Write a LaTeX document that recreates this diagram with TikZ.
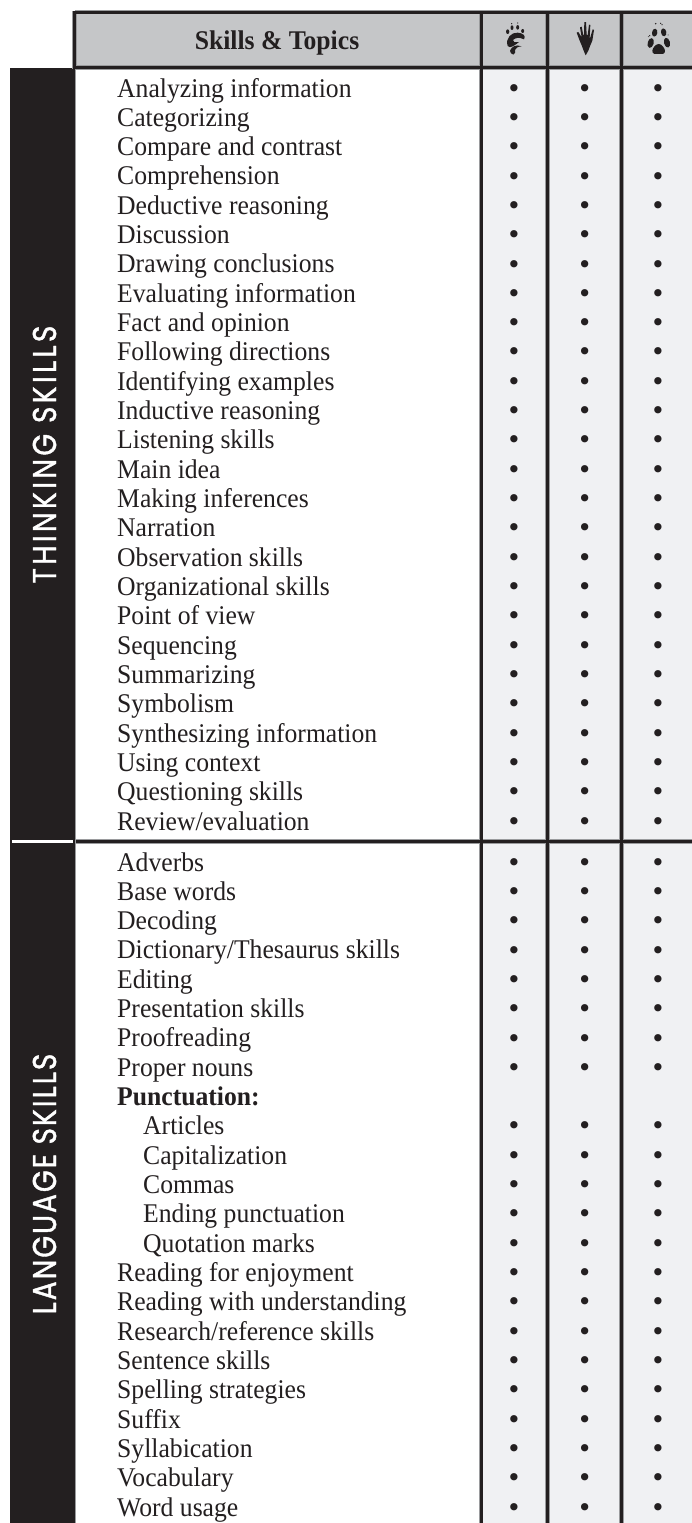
\documentclass[tikz,border=0pt]{standalone}
\usepackage{fontspec}
\setmainfont{Liberation Serif}[FakeStretch=0.95]
\newfontfamily\sidefontA{Poppins}[LetterSpace=10,FakeStretch=0.85,FakeBold=1.2]
\newfontfamily\sidefontB{Poppins}[LetterSpace=6,FakeStretch=0.85,FakeBold=1.2]
\newfontfamily\dotfont{DejaVu Sans}
\definecolor{ink}{HTML}{231F20}
\definecolor{headgray}{HTML}{C5C6C8}
\definecolor{cellgray}{HTML}{F0F1F3}
\definecolor{halo}{HTML}{9A9B9D}
\tikzset{
  x=1pt,y=-1pt,
  rowtext/.style={anchor=base west,inner sep=0pt,font=\fontsize{27}{29}\selectfont,text=ink},
  dotmark/.style={anchor=base,inner sep=0pt,font=\dotfont\fontsize{25}{25}\selectfont,text=ink},
  sidelabel/.style={rotate=90,anchor=center,inner sep=0pt,text=white},
  rulehalo/.style={draw=halo,line width=4.6pt},
  ruleink/.style={draw=ink,line width=3pt},
  iconink/.style={fill=ink,draw=none}
}
\newcommand{\gridpaths}[1]{%
  \draw[#1] (481,12) -- (481,1523);
  \draw[#1] (547.6,12) -- (547.6,1523);
  \draw[#1] (621.6,12) -- (621.6,1523);
  \draw[#1] (74.5,12) -- (692,12);
  \draw[#1] (74.5,67.5) -- (692,67.5);
  \draw[#1] (74.5,10.5) -- (74.5,69);
  \draw[#1] (76,841.5) -- (692,841.5);
}
\begin{document}
\begin{tikzpicture}
\useasboundingbox (0,0) rectangle (692,1523);
\fill[white] (0,0) rectangle (692,1523);
% sidebar
\fill[ink] (10,68) rectangle (75,1523);
\fill[halo] (75,68) rectangle (76,1523);
% fills
\fill[headgray] (74,12) rectangle (692,67);
\fill[cellgray] (481,68) rectangle (692,1523);
% rules
\gridpaths{rulehalo}
\gridpaths{ruleink}
\draw[draw=halo,line width=3.6pt] (12,841.5) -- (73,841.5);
\draw[draw=white,line width=2.4pt] (12,841.5) -- (73,841.5);
% header
\node[rowtext,font=\fontsize{27}{29}\selectfont\bfseries,anchor=base] (head) at (277,49) {Skills \& Topics};
% bear
\begin{scope}[shift={(495,20)},scale=0.3333]
\fill[iconink] (38,35) ellipse (5 and 7);
\fill[iconink] (51,23) ellipse (4.5 and 7);
\fill[iconink] (68,22) ellipse (4.5 and 7);
\fill[iconink] (83,33) ellipse (4.5 and 6);
\fill[iconink] (50,11) circle (2) (68,9) circle (2);
\fill[iconink] (38,78) .. controls (30,55) and (50,36) .. (68,38)
  .. controls (84,39) and (94,48) .. (87,58)
  .. controls (72,50) and (60,54) .. (54,60)
  .. controls (52,66) and (60,68) .. (72,66)
  .. controls (62,74) and (45,88) .. (38,78) -- cycle;
\fill[iconink] (45,92) .. controls (50,80) and (62,72) .. (80,79)
  .. controls (68,80) and (62,84) .. (60,90)
  .. controls (62,95) and (60,102) .. (55,104)
  .. controls (50,102) and (44,98) .. (45,92) -- cycle;
\end{scope}
% hand
\begin{scope}[shift={(565,20)},scale=0.3333]
\fill[iconink] (62,106) -- (56,92) -- (50,76) -- (44,62) -- (35,38) -- (40,36) -- (50,52)
 -- (45,22) -- (50,20) -- (55,46) -- (57,44) -- (58,6) -- (63,6) -- (65,44) -- (68,46) -- (72,14) -- (76,15) -- (74,54)
 -- (76,52) -- (83,28) -- (87,30) -- (82,62) -- (76,76) -- (70,92) -- cycle;
\end{scope}
% wolf
\begin{scope}[shift={(638,20)},scale=0.3333]
\fill[iconink] (62,72) .. controls (72,72) and (80,85) .. (81,92)
  .. controls (82,103) and (70,104) .. (62,102)
  .. controls (54,104) and (42,103) .. (43,92)
  .. controls (44,85) and (52,72) .. (62,72) -- cycle;
\fill[iconink,rotate around={-15:(38,69)}] (38,69) ellipse (9 and 15);
\fill[iconink,rotate around={15:(87,68)}] (87,68) ellipse (9 and 15);
\fill[iconink,rotate around={-10:(50,38)}] (50,38) ellipse (8 and 12);
\fill[iconink,rotate around={10:(77,37)}] (77,37) ellipse (8 and 12);
\fill[iconink] (53,11) circle (2.5) (68,10) circle (2) (72,14) circle (2) (35,47) circle (2) (31,50) circle (1.5) (90,45) circle (1.5);
\end{scope}
% sidebar labels
\node[sidelabel,font=\sidefontA\fontsize{33}{33}\selectfont] (thinking) at (44.5,454.5) {THINKING SKILLS};
\node[sidelabel,font=\sidefontB\fontsize{33}{33}\selectfont] (language) at (44.5,1184) {LANGUAGE SKILLS};
% rows
\foreach \txt [count=\i from 0] in {Analyzing information,Categorizing,Compare and contrast,Comprehension,Deductive reasoning,Discussion,Drawing conclusions,Evaluating information,Fact and opinion,Following directions,Identifying examples,Inductive reasoning,Listening skills,Main idea,Making inferences,Narration,Observation skills,Organizational skills,Point of view,Sequencing,Summarizing,Symbolism,Synthesizing information,Using context,Questioning skills,Review/evaluation}{
  \pgfmathsetmacro{\yy}{87.7+29.32*\i}
  \node[rowtext] (ta\i) at (117,\yy+9.3) {\txt};
  \node[dotmark] (tb\i) at (514,\yy+9.4) {•};
  \node[dotmark] (tc\i) at (584.7,\yy+9.4) {•};
  \node[dotmark] (td\i) at (658,\yy+9.4) {•};
}
\foreach \txt [count=\i from 0] in {Adverbs,Base words,Decoding,{Dictionary/Thesaurus skills},Editing,Presentation skills,Proofreading,Proper nouns,{},{},{},{},{},{},Reading for enjoyment,Reading with understanding,Research/reference skills,Sentence skills,Spelling strategies,Suffix,Syllabication,Vocabulary,Word usage}{
  \pgfmathsetmacro{\yy}{861.7+29.32*\i}
  \ifnum\i=8\relax\else
  \ifnum\i<9\relax\node[rowtext] (la\i) at (117,\yy+9.3) {\txt};\else
  \ifnum\i>13\relax\node[rowtext] (la\i) at (117,\yy+9.3) {\txt};\fi\fi
  \node[dotmark] (lb\i) at (514,\yy+9.4) {•};
  \node[dotmark] (lc\i) at (584.7,\yy+9.4) {•};
  \node[dotmark] (ld\i) at (658,\yy+9.4) {•};
  \fi
}
\node[rowtext,font=\fontsize{27}{29}\selectfont\bfseries] (punct) at (117,1105.26) {Punctuation:};
\foreach \txt [count=\i from 9] in {Articles,Capitalization,Commas,Ending punctuation,Quotation marks}{
  \pgfmathsetmacro{\yy}{861.7+29.32*\i}
  \node[rowtext] (sub\i) at (143,\yy+9.3) {\txt};
}
\end{tikzpicture}
\end{document}
